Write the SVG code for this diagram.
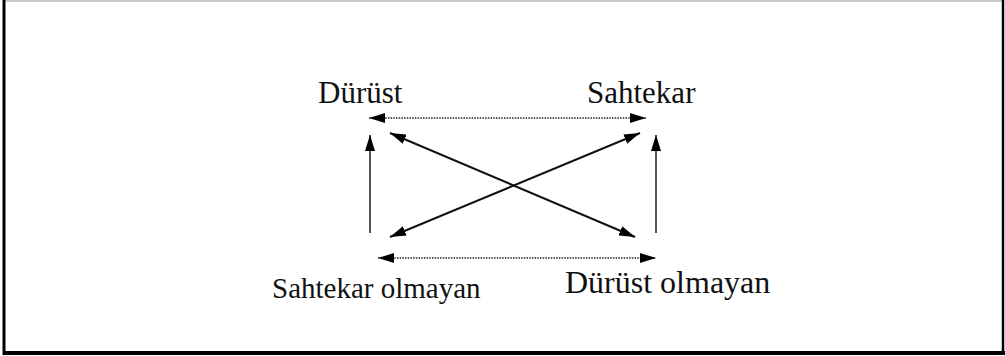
<svg xmlns="http://www.w3.org/2000/svg" width="1005" height="356" viewBox="0 0 1005 356">
<defs>
<marker id="ah" viewBox="0 0 16 10" refX="16" refY="5" markerWidth="16" markerHeight="10" markerUnits="userSpaceOnUse" orient="auto-start-reverse">
<path d="M0,0 L16,5 L0,10 z" fill="#000"/>
</marker>
<style>
.lbl{font-family:"Liberation Serif","Times New Roman",serif;fill:#111;}
.dot{stroke:#222;stroke-width:1.6;stroke-dasharray:1.5 1.2;fill:none;}
.solid{stroke:#111;stroke-width:2;fill:none;}
.vert{stroke:#555;stroke-width:2;fill:none;}
</style>
</defs>
<rect x="0" y="0" width="1005" height="356" fill="#fff"/>
<g id="frame">
<line x1="3" y1="1" x2="1003" y2="1" stroke="#ccc" stroke-width="2"/>
<line x1="4" y1="0" x2="4" y2="355" stroke="#000" stroke-width="3"/>
<line x1="1003" y1="0" x2="1003" y2="355" stroke="#000" stroke-width="2.5"/>
<line x1="3" y1="353" x2="1005" y2="353" stroke="#000" stroke-width="4"/>
</g>
<g id="connectors">
<line class="dot" x1="369" y1="118" x2="646" y2="118" marker-start="url(#ah)" marker-end="url(#ah)"/>
<line class="dot" x1="378" y1="258" x2="656" y2="258" marker-start="url(#ah)" marker-end="url(#ah)"/>
<line class="vert" x1="370" y1="233" x2="370" y2="135" marker-end="url(#ah)"/>
<line class="vert" x1="656" y1="233" x2="656" y2="135" marker-end="url(#ah)"/>
<line class="solid" x1="390" y1="133" x2="635" y2="237" marker-start="url(#ah)" marker-end="url(#ah)"/>
<line class="solid" x1="640" y1="133" x2="390" y2="237" marker-start="url(#ah)" marker-end="url(#ah)"/>
</g>
<g id="node-durust"><text class="lbl" x="318" y="103" font-size="31">Dürüst</text></g>
<g id="node-sahtekar"><text class="lbl" x="587" y="103" font-size="31">Sahtekar</text></g>
<g id="node-sahtekar-olmayan"><text class="lbl" x="272" y="298" font-size="29">Sahtekar olmayan</text></g>
<g id="node-durust-olmayan"><text class="lbl" x="565" y="293" font-size="32">Dürüst olmayan</text></g>
</svg>
